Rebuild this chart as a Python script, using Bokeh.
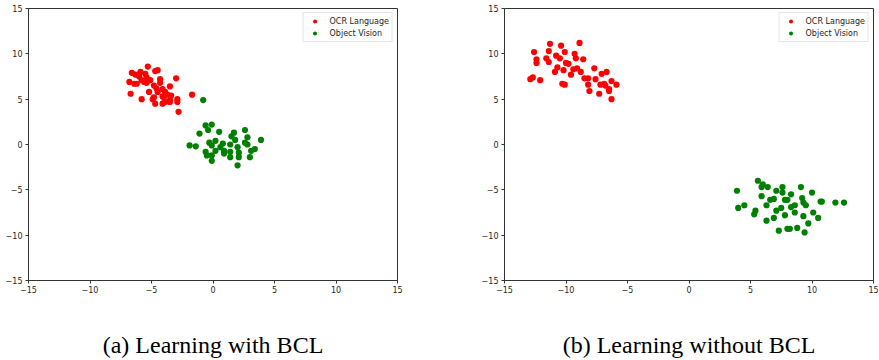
from bokeh.plotting import figure
from bokeh.layouts import row
from bokeh.models import FixedTicker, CustomJSTickFormatter
from bokeh.embed import file_html
from bokeh.resources import INLINE

# ---- data ----
ticks = [-15, -10, -5, 0, 5, 10, 15]
series_names = ["OCR Language", "Object Vision"]
captions = ["(a) Learning with BCL", "(b) Learning without BCL"]

# (a) Learning with BCL
bcl_ocr_x = [-5.3, -4.7, -4.5, -6.6, -6.3, -5.9, -5.5, -5.4, -5.1, -6.8, -6.4, -6.2, -5.8, -5.6,
             -4.3, -4.3, -3.0, -4.8, -4.6, -4.1, -3.5, -3.9, -4.5, -6.7, -5.2, -3.7, -3.4, -4.0,
             -3.5, -2.9, -2.9, -5.8, -4.9, -4.8, -4.7, -4.1, -3.9, -3.5, -1.7, -2.8, -6.0, -5.4, -4.1]
bcl_ocr_y = [8.6, 8.1, 8.2, 7.9, 7.7, 8.0, 7.8, 7.4, 7.1, 6.9, 6.7, 6.7, 7.1, 6.9,
             7.2, 6.8, 7.3, 6.5, 6.2, 6.1, 6.4, 5.8, 5.8, 5.6, 5.8, 5.5, 5.4, 5.2,
             4.9, 5.0, 4.7, 5.0, 5.0, 5.2, 4.5, 4.5, 4.7, 4.7, 5.5, 3.6, 7.5, 6.8, 5.3]
bcl_obj_x = [-0.6, -0.1, -0.4, -1.1, 0.5, 1.7, 1.5, 2.6, 2.8, 3.9, -1.9, -1.4, -0.3, 0.2,
             0.8, 0.6, 0.2, -0.6, -0.5, -0.1, -0.1, 0.9, 1.4, 1.4, 2.0, 2.1, 2.1, 2.0,
             2.6, 2.8, 3.1, 3.4, 3.0, 1.8, 0.9, -0.1, -0.8, 1.4]
bcl_obj_y = [2.1, 2.2, 1.6, 1.2, 1.4, 1.3, 0.9, 1.6, 0.8, 0.5, -0.1, -0.2, 0.2, 0.4,
             0.1, -0.3, -0.7, -0.8, -1.2, -1.8, -1.2, -1.0, -0.8, -1.4, -0.3, -0.9, -1.4, -2.3,
             0.2, 0.0, -0.7, -0.5, -1.4, 0.5, -0.7, -0.1, 4.9, 0.0]

# (b) Learning without BCL
nobcl_ocr_x = [-12.9, -12.7, -12.1, -12.6, -12.4, -12.4, -11.3, -11.4, -11.6, -11.4, -10.4, -10.8,
               -10.5, -10.1, -10.7, -10.9, -10.2, -10.0, -9.8, -10.3, -10.1, -9.6, -9.3, -9.2,
               -8.9, -8.6, -9.4, -9.1, -8.8, -8.5, -8.2, -8.2, -8.1, -7.7, -7.6, -7.1, -6.7,
               -7.2, -6.9, -7.3, -6.8, -6.5, -6.5, -6.3, -5.9, -6.3]
nobcl_ocr_y = [7.2, 7.4, 7.1, 10.2, 9.4, 9.0, 11.1, 10.3, 9.5, 9.1, 10.9, 9.8,
               9.5, 10.2, 8.5, 8.0, 8.2, 9.0, 8.9, 6.7, 6.6, 7.7, 10.0, 9.5,
               11.2, 9.4, 8.3, 8.4, 8.0, 7.3, 7.3, 6.6, 5.9, 8.4, 7.2, 7.8, 8.0,
               6.6, 6.7, 5.6, 6.5, 6.1, 5.9, 7.0, 6.6, 5.0]
nobcl_obj_x = [5.6, 5.9, 6.0, 6.4, 3.9, 7.6, 7.6, 7.1, 8.3, 9.1, 10.0, 5.9, 6.6, 6.9, 7.8,
               8.0, 9.2, 9.3, 10.7, 10.8, 11.9, 12.6, 6.3, 4.5, 4.0, 5.4, 5.3, 7.1, 7.5, 8.3,
               8.6, 9.5, 7.8, 8.6, 9.3, 10.1, 10.5, 6.9, 6.3, 9.7, 7.3, 8.0, 8.2, 8.8, 9.4]
nobcl_obj_y = [-4.0, -4.7, -4.4, -4.7, -5.1, -4.7, -5.3, -5.1, -5.5, -4.7, -5.3, -5.7, -6.1, -6.0, -6.1,
               -6.1, -5.9, -6.4, -6.3, -6.3, -6.4, -6.4, -6.7, -6.7, -7.0, -7.3, -7.7, -7.3, -7.0, -6.9,
               -6.7, -6.7, -7.8, -7.5, -7.9, -7.5, -8.1, -8.1, -8.4, -8.7, -9.5, -9.3, -9.3, -9.2, -9.7]

OCR_COLOR = "#ff0000"
OBJ_COLOR = "#008000"
AXIS_COLOR = "#333333"
TEXT_COLOR = "#262626"


def make_panel(caption, ox, oy, gx, gy, width, border_right):
    p = figure(width=width, height=360, x_range=(-15, 15), y_range=(-15, 15),
               output_backend="svg", toolbar_location=None,
               min_border_left=28, min_border_right=border_right,
               min_border_top=8, min_border_bottom=77,
               background_fill_color="white", border_fill_color="white")
    p.grid.visible = False
    p.outline_line_color = AXIS_COLOR
    p.outline_line_width = 1

    p.scatter(ox, oy, size=6.2, fill_color=OCR_COLOR, line_color=None,
              legend_label=series_names[0])
    p.scatter(gx, gy, size=6.2, fill_color=OBJ_COLOR, line_color=None,
              legend_label=series_names[1])

    fmt = CustomJSTickFormatter(code="return tick < 0 ? '\\u2212' + Math.abs(tick) : String(tick);")
    for ax in (p.xaxis[0], p.yaxis[0]):
        ax.ticker = FixedTicker(ticks=ticks, minor_ticks=[])
        ax.formatter = fmt
        ax.axis_line_color = AXIS_COLOR
        ax.major_tick_line_color = AXIS_COLOR
        ax.major_tick_out = 3
        ax.major_tick_in = 0
        ax.minor_tick_line_color = None
        ax.major_label_text_font = "DejaVu Sans"
        ax.major_label_text_font_size = "8px"
        ax.major_label_text_color = TEXT_COLOR
    p.yaxis[0].major_label_standoff = 3
    p.xaxis[0].major_label_standoff = 2

    p.xaxis[0].axis_label = caption
    p.xaxis[0].axis_label_text_font = "Liberation Serif"
    p.xaxis[0].axis_label_text_font_style = "normal"
    p.xaxis[0].axis_label_text_font_size = "24px"
    p.xaxis[0].axis_label_text_color = "black"
    p.xaxis[0].axis_label_standoff = 36

    lg = p.legend[0]
    lg.location = "top_right"
    lg.margin = 4
    lg.padding = 3
    lg.spacing = 2
    lg.glyph_width = 16
    lg.glyph_height = 10
    lg.label_height = 10
    lg.label_standoff = 7
    lg.label_text_font = "DejaVu Sans"
    lg.label_text_font_size = "8px"
    lg.label_text_color = TEXT_COLOR
    lg.border_line_color = "#cccccc"
    lg.border_line_width = 1
    lg.background_fill_color = "white"
    lg.background_fill_alpha = 0.8
    return p


pa = make_panel(captions[0], bcl_ocr_x, bcl_ocr_y, bcl_obj_x, bcl_obj_y, 476, 79)
pb = make_panel(captions[1], nobcl_ocr_x, nobcl_ocr_y, nobcl_obj_x, nobcl_obj_y, 403, 6)

layout = row(pa, pb)
open("out.html", "w").write(file_html(layout, INLINE))
